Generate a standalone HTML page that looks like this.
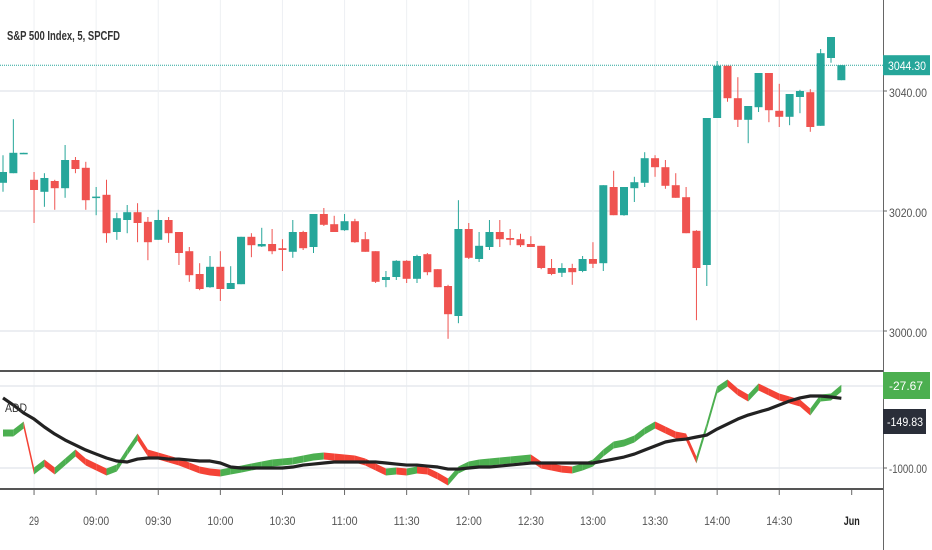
<!DOCTYPE html>
<html><head><meta charset="utf-8">
<style>
html,body{margin:0;padding:0;background:#fff;}
svg{display:block;font-family:"Liberation Sans",sans-serif;}
</style></head>
<body>
<svg id="chart" width="932" height="550" viewBox="0 0 932 550" xmlns="http://www.w3.org/2000/svg">
  <rect x="0" y="0" width="932" height="550" fill="#ffffff"/>
  <g id="grid"></g>
  <g id="candles"></g>
  <g id="addpane"></g>
  <g id="axes"></g>
  <text x="7" y="40" font-size="13" font-weight="bold" fill="#333" textLength="113" lengthAdjust="spacingAndGlyphs">S&amp;P 500 Index, 5, SPCFD</text>
  <text x="5" y="412" font-size="12" fill="#333" textLength="22" lengthAdjust="spacingAndGlyphs">ADD</text>
</svg>
<script>
const opens=[3024.7,3026.3,3029.6,3025.2,3023.2,3025.0,3023.8,3028.5,3027.2,3022.3,3022.7,3016.5,3018.5,3019.8,3018.2,3015.2,3018.5,3016.5,3013.3,3009.5,3007.3,3010.7,3007.0,3007.8,3015.7,3014.1,3014.5,3013.8,3013.2,3016.5,3014.0,3019.5,3017.8,3016.8,3018.3,3015.3,3013.3,3008.5,3009.0,3011.7,3008.7,3012.8,3010.3,3007.5,3002.5,3017.0,3012.0,3014.0,3016.5,3015.5,3015.3,3014.5,3014.2,3010.5,3009.7,3010.5,3010.0,3012.0,3011.3,3024.0,3019.3,3023.8,3024.7,3028.8,3027.3,3024.3,3022.3,3016.7,3011.0,3035.5,3044.2,3038.8,3035.2,3037.3,3043.0,3036.7,3035.7,3039.0,3039.8,3034.2,3045.5,3041.8];
const closes=[3026.5,3029.7,3029.7,3023.5,3025.5,3023.8,3028.5,3027.0,3021.8,3022.4,3016.3,3018.8,3019.8,3018.0,3014.8,3018.5,3016.3,3013.0,3009.3,3007.0,3010.7,3007.0,3008.0,3015.7,3014.3,3014.5,3013.3,3013.5,3016.5,3013.8,3019.5,3017.7,3016.5,3018.3,3014.8,3013.2,3008.2,3009.0,3011.7,3008.7,3012.5,3009.8,3007.3,3002.8,3017.0,3012.2,3014.2,3016.5,3015.3,3015.2,3014.3,3014.0,3010.5,3009.5,3010.5,3009.8,3012.0,3011.2,3024.3,3019.3,3024.0,3024.8,3028.8,3027.3,3024.2,3022.2,3016.3,3010.5,3035.5,3044.2,3038.8,3035.2,3037.5,3043.0,3036.8,3035.7,3039.5,3040.0,3034.0,3046.3,3049.0,3044.3];
const highs=[3029.3,3035.3,3029.7,3026.5,3026.3,3025.2,3031.0,3029.0,3028.2,3024.0,3025.2,3019.7,3021.0,3021.3,3019.0,3020.2,3019.0,3016.5,3014.0,3011.3,3012.5,3013.3,3010.8,3015.7,3016.3,3017.2,3017.0,3015.3,3018.5,3016.7,3019.5,3020.5,3019.2,3019.5,3018.7,3016.5,3013.3,3010.0,3011.8,3011.8,3012.7,3013.0,3010.3,3007.7,3021.8,3018.0,3016.5,3018.5,3018.5,3017.0,3016.2,3015.8,3014.2,3012.0,3011.3,3011.2,3012.5,3014.8,3024.3,3026.7,3024.0,3025.7,3029.8,3029.3,3028.5,3026.3,3024.0,3016.8,3035.5,3045.0,3044.2,3042.3,3037.5,3043.0,3043.0,3041.2,3039.5,3040.2,3040.3,3047.0,3049.0,3044.3];
const lows=[3023.2,3026.3,3029.6,3018.0,3020.7,3020.2,3022.2,3026.3,3020.2,3019.3,3014.7,3015.2,3016.3,3014.8,3011.8,3015.2,3014.7,3011.0,3008.2,3006.8,3007.2,3005.0,3007.0,3007.8,3012.3,3014.0,3012.8,3010.0,3012.2,3013.5,3013.0,3017.5,3016.5,3016.7,3014.7,3013.2,3008.0,3007.3,3008.5,3008.0,3008.0,3009.3,3007.3,2998.7,3001.3,3012.0,3011.5,3013.5,3014.0,3014.3,3014.0,3014.0,3010.3,3009.3,3009.0,3007.7,3009.8,3010.5,3010.0,3019.3,3019.2,3021.5,3024.0,3025.7,3023.7,3022.2,3016.3,3001.8,3007.5,3035.5,3038.2,3034.0,3031.3,3036.5,3034.8,3034.0,3034.3,3036.3,3033.2,3034.2,3044.7,3041.8];
const addValues=[-573,-573,-476,-1037,-939,-1037,-927,-817,-927,-988,-1049,-1000,-805,-622,-817,-854,-891,-927,-976,-1025,-1049,-1061,-1037,-1013,-988,-964,-939,-927,-915,-891,-866,-854,-866,-878,-891,-927,-988,-1049,-1037,-1049,-1025,-1037,-1098,-1171,-1025,-964,-939,-927,-915,-903,-891,-878,-964,-988,-1013,-1025,-988,-939,-817,-720,-695,-647,-549,-476,-537,-598,-622,-903,-488,-49,37,-73,-146,-12,-73,-134,-171,-207,-317,-146,-134,-28];
const maValues=[-146,-232,-329,-403,-500,-586,-659,-720,-781,-830,-878,-915,-927,-891,-878,-878,-891,-891,-903,-915,-915,-939,-988,-1000,-1000,-1000,-1000,-1000,-988,-964,-952,-939,-927,-927,-927,-927,-927,-939,-952,-964,-964,-976,-988,-1013,-1013,-1000,-988,-988,-976,-964,-952,-939,-939,-939,-939,-939,-939,-939,-915,-891,-866,-830,-781,-732,-683,-659,-647,-622,-598,-525,-464,-403,-354,-317,-281,-232,-183,-146,-122,-122,-134,-150];
const priceTicks=[3040,3020,3000];
const priceTickLabels=["3040.00","3020.00","3000.00"];
const timeTickIdx=[3,9,15,21,27,33,39,45,51,57,63,69,75,82];
const timeTickLabels=["29","09:00","09:30","10:00","10:30","11:00","11:30","12:00","12:30","13:00","13:30","14:00","14:30","Jun"];
const lastPrice=3044.30;

const NS="http://www.w3.org/2000/svg";
const GREEN="#26a69a",RED="#ef5350",AGREEN="#4caf50",ARED="#f44336";
const xOf=i=>3+i*10.35;
const yP=p=>91+(3040-p)*6;
const yA=v=>386-v*0.082;
function mk(tag,attrs,parent){const e=document.createElementNS(NS,tag);for(const k in attrs)e.setAttribute(k,attrs[k]);parent.appendChild(e);return e;}
const grid=document.getElementById('grid'),cg=document.getElementById('candles'),ag=document.getElementById('addpane'),ax=document.getElementById('axes');

priceTicks.forEach((p,k)=>{
  const l=mk('line',{x1:0,x2:883,y1:yP(p),y2:yP(p),stroke:'#e6e9ee','stroke-width':1.5},grid);
  
  
});
timeTickIdx.forEach(i=>{
  if(i>=82)return;
  const l=mk('line',{x1:xOf(i),x2:xOf(i),y1:0,y2:489,stroke:'#eef0f3','stroke-width':1},grid);
  
  
});
[0,-1000].forEach(v=>{
  const l=mk('line',{x1:0,x2:883,y1:yA(v),y2:yA(v),stroke:'#e6e9ee','stroke-width':1.5},grid);
  
  
});
const lp=mk('line',{x1:0,x2:883,y1:yP(lastPrice),y2:yP(lastPrice),stroke:GREEN,'stroke-width':1,'stroke-dasharray':'1,1'},grid);



opens.forEach((o,i)=>{
  const c=closes[i],up=c>=o,col=up?GREEN:RED,x=xOf(i);
  const g=mk('g',{},cg);
  
  
  mk('line',{x1:x,x2:x,y1:yP(highs[i]),y2:yP(lows[i]),stroke:col,'stroke-width':1},g);
  const top=yP(Math.max(o,c)),bot=yP(Math.min(o,c));
  mk('rect',{x:x-4,y:top,width:8,height:Math.max(1.5,bot-top),fill:col},g);
});

for(let i=1;i<addValues.length;i++){
  const up=addValues[i]>=addValues[i-1];
  const x0=xOf(i-1),x1=xOf(i),y0=yA(addValues[i-1]),y1=yA(addValues[i]);
  const p=mk('polygon',{points:`${x0},${y0-3.5} ${x1},${y1-3.5} ${x1},${y1+3.5} ${x0},${y0+3.5}`,fill:up?AGREEN:ARED},ag);
  
  
}
const ma=mk('polyline',{points:maValues.map((v,i)=>xOf(i)+','+yA(v)).join(' '),fill:'none',stroke:'#222','stroke-width':3.2,'stroke-linejoin':'round'},ag);



let s=mk('rect',{x:0,y:370,width:883,height:2,fill:'#555'},ax);


s=mk('rect',{x:0,y:488,width:883,height:2,fill:'#555'},ax);


s=mk('line',{x1:883.5,x2:883.5,y1:0,y2:550,stroke:'#666','stroke-width':1},ax);



priceTicks.forEach((p,k)=>{
  const y=yP(p);
  mk('line',{x1:883,x2:887,y1:y,y2:y,stroke:'#666'},ax);
  const t=mk('text',{x:889,y:y+6,'font-size':12,fill:'#555',textLength:38,lengthAdjust:'spacingAndGlyphs'},ax);
  t.textContent=priceTickLabels[k];
  
  
});
let b=mk('rect',{x:883,y:yP(lastPrice)-10,width:47,height:20,fill:GREEN},ax);


let t=mk('text',{x:888,y:yP(lastPrice)+5,'font-size':12,fill:'#fff',textLength:38,lengthAdjust:'spacingAndGlyphs'},ax);
t.textContent=lastPrice.toFixed(2);



b=mk('rect',{x:883,y:372,width:47,height:27,fill:AGREEN},ax);


t=mk('text',{x:889,y:390,'font-size':12,fill:'#fff',textLength:34,lengthAdjust:'spacingAndGlyphs'},ax);
t.textContent=addValues[addValues.length-1]===-28?'-27.67':addValues[addValues.length-1].toFixed(2);


b=mk('rect',{x:883,y:409,width:43,height:25,fill:'#2a2e39'},ax);


t=mk('text',{x:887,y:426,'font-size':12,fill:'#fff',textLength:36,lengthAdjust:'spacingAndGlyphs'},ax);
t.textContent=maValues[maValues.length-1]===-150?'-149.83':maValues[maValues.length-1].toFixed(2);


mk('line',{x1:883,x2:887,y1:yA(-1000),y2:yA(-1000),stroke:'#666'},ax);
t=mk('text',{x:889,y:yA(-1000)+5,'font-size':12,fill:'#555',textLength:38,lengthAdjust:'spacingAndGlyphs'},ax);
t.textContent='-1000.00';



timeTickIdx.forEach((i,k)=>{
  const x=xOf(i);
  mk('line',{x1:x,x2:x,y1:490,y2:495,stroke:'#666'},ax);
  const lab=timeTickLabels[k];
  const w=lab.length<=3?(lab==='Jun'?16:10):26;
  const tt=mk('text',{x:x,y:525,'font-size':12,fill:lab==='Jun'?'#222':'#555','font-weight':lab==='Jun'?'bold':'normal','text-anchor':'middle',textLength:w,lengthAdjust:'spacingAndGlyphs'},ax);
  tt.textContent=lab;
  
  
});
</script>
</body></html>
